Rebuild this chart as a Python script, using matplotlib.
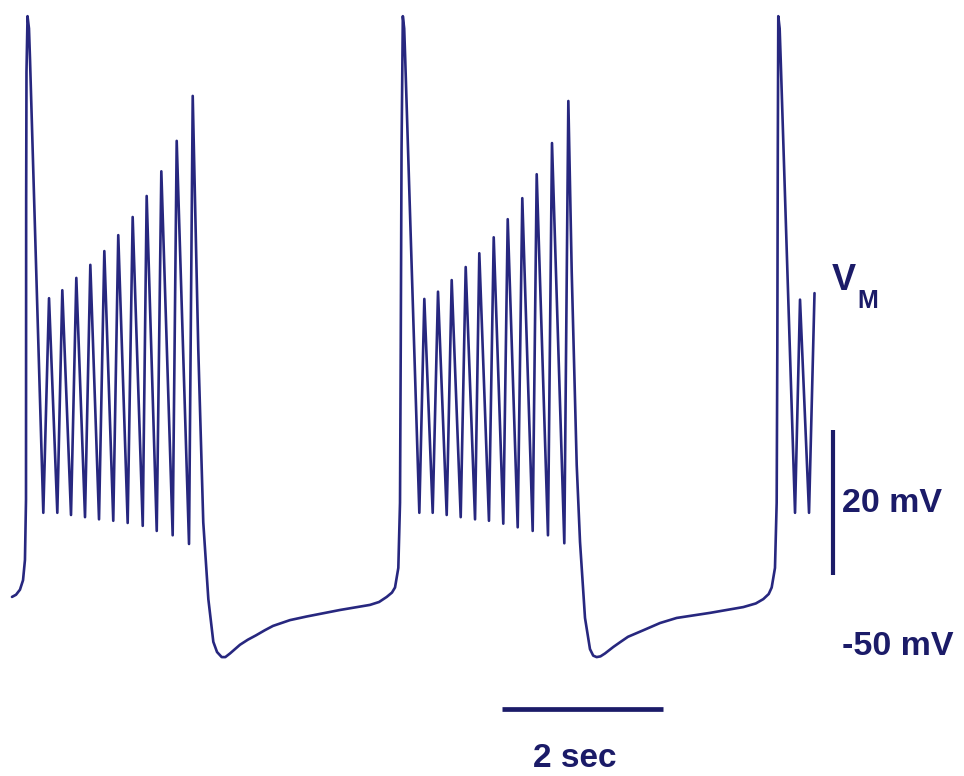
import matplotlib
matplotlib.use("Agg")
import matplotlib.pyplot as plt

# membrane potential trace (time in s, voltage in mV)
trace_t = [
    0.000, 0.050, 0.099, 0.137, 0.161, 0.174, 0.176, 0.180, 0.193, 0.211, 0.224,
    0.389, 0.460, 0.563, 0.625, 0.733, 0.799, 0.907, 0.973, 1.081, 1.147,
    1.258, 1.320, 1.437, 1.499, 1.624, 1.673, 1.798, 1.855, 1.996, 2.046,
    2.199, 2.245,
    2.314, 2.376, 2.439, 2.501, 2.547, 2.605, 2.650, 2.708, 2.770, 2.832,
    2.930, 3.031, 3.140, 3.242, 3.453, 3.661, 4.075, 4.447, 4.560, 4.655,
    4.720, 4.758, 4.799, 4.820, 4.829, 4.839,
    4.855, 4.872, 4.885,
    5.060, 5.122, 5.226, 5.292, 5.400, 5.462, 5.574, 5.636, 5.752, 5.805,
    5.925, 5.984, 6.103, 6.158, 6.282, 6.339, 6.468, 6.518, 6.658, 6.708,
    6.861, 6.911,
    6.953, 7.015, 7.056, 7.118, 7.180, 7.220, 7.263, 7.310, 7.366, 7.470,
    7.560, 7.652, 7.842, 8.050, 8.257, 8.671, 9.085, 9.240, 9.333, 9.400,
    9.437, 9.478, 9.499, 9.507, 9.513,
    9.519, 9.536, 9.549,
    9.727, 9.789, 9.901, 9.969,
]
trace_mv = [
    -42.4, -42.1, -41.4, -40.1, -37.3, -29.0, 12.3, 30.0, 37.7, 36.0, 31.7,
    -30.8, -1.2, -30.8, -0.1, -31.1, 1.6, -31.4, 3.4, -31.7, 5.3,
    -31.9, 7.5, -32.2, 10.0, -32.6, 12.9, -33.3, 16.3, -33.9, 20.5,
    -35.1, 26.7,
    -8.2, -32.1, -42.7, -48.6, -50.0, -50.7, -50.7, -50.2, -49.6, -49.0,
    -48.3, -47.7, -47.0, -46.4, -45.6, -45.1, -44.2, -43.5, -43.1, -42.4,
    -41.8, -41.1, -38.4, -29.4, -8.2, 19.2,
    37.7, 36.0, 31.7,
    -30.8, -1.3, -30.8, -0.3, -31.1, 1.3, -31.4, 3.1, -31.7, 5.0,
    -31.9, 7.2, -32.3, 9.7, -32.8, 12.6, -33.3, 15.9, -33.9, 20.2,
    -35.0, 26.0,
    2.4, -24.2, -34.8, -45.3, -49.6, -50.5, -50.7, -50.6, -50.2, -49.3,
    -48.6, -47.9, -47.0, -46.0, -45.3, -44.6, -43.8, -43.3, -42.7, -42.0,
    -41.1, -38.4, -29.4, -8.2, 19.2,
    37.7, 36.0, 31.7,
    -30.8, -1.4, -30.8, -0.5,
]

# scale bars
bar_mv = [-39.4, -19.4]      # 20 mV
bar_mv_t = 10.199
bar_sec = [6.087, 8.087]     # 2 sec
bar_sec_mv = -57.9

trace_color = "#27277f"
ink = "#1b1b68"

fig = plt.figure(figsize=(9.64, 7.76), dpi=100)
ax = fig.add_axes([0, 0, 1, 1])
ax.set_xlim(-0.149, 11.826)
ax.set_ylim(-67.10, 39.93)
ax.axis("off")

ax.plot(trace_t, trace_mv, color=trace_color, lw=1.9,
        solid_joinstyle="round", solid_capstyle="round")

ax.plot([bar_mv_t, bar_mv_t], bar_mv, color=ink, lw=3.0, solid_capstyle="butt")
ax.plot(bar_sec, [bar_sec_mv, bar_sec_mv], color=ink, lw=3.4, solid_capstyle="butt")

font = dict(family=["Liberation Sans", "DejaVu Sans"], weight="bold", color=ink)
ax.text(10.183, 0.0, "V", fontsize=26, ha="left", va="baseline", **font)
ax.text(10.497, -2.55, "M", fontsize=18, ha="left", va="baseline", **font)
ax.text(10.307, -30.7, "20 mV", fontsize=24.5, ha="left", va="baseline", **font)
ax.text(10.307, -50.4, "-50 mV", fontsize=24.5, ha="left", va="baseline", **font)
ax.text(6.994, -65.9, "2 sec", fontsize=24, ha="center", va="baseline", **font)

fig.savefig("out.png", dpi=100, facecolor="white")
